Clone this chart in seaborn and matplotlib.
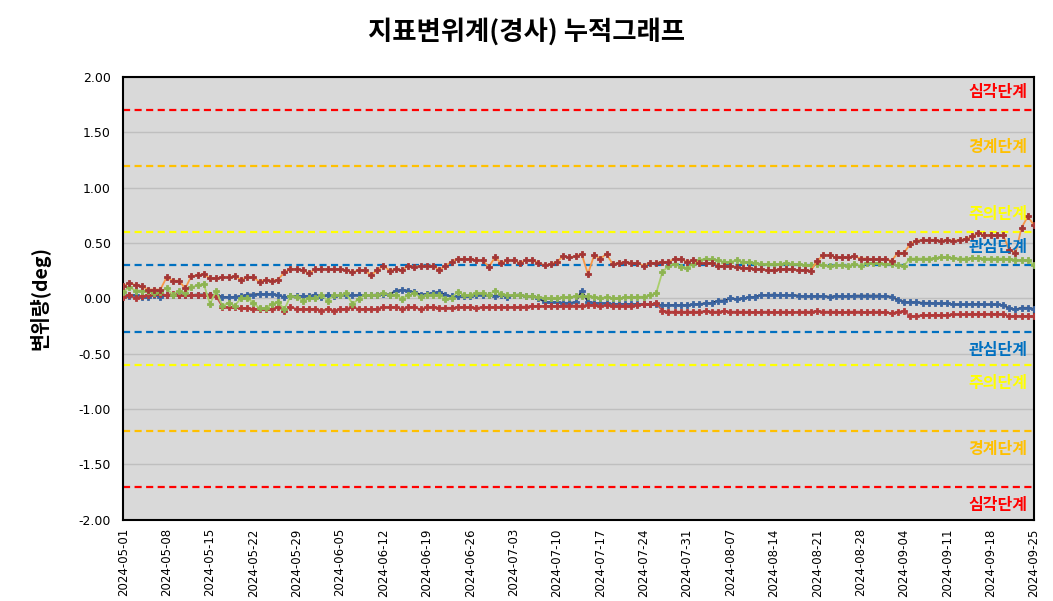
import pandas as pd
import matplotlib
matplotlib.use("Agg")
import matplotlib.pyplot as plt
import matplotlib.ticker as mticker
import seaborn as sns

# daily readings 2024-05-01 .. 2024-09-25
dates = pd.date_range("2024-05-01", "2024-09-25", freq="D")

upper_red = [
    0.11, 0.14, 0.12, 0.11, 0.08, 0.08, 0.08, 0.19, 0.16, 0.16, 0.09, 0.20, 0.21, 0.22, 0.18, 0.18,
    0.19, 0.19, 0.20, 0.17, 0.19, 0.19, 0.15, 0.17, 0.16, 0.17,
    0.235, 0.265, 0.265, 0.255, 0.225, 0.265, 0.265, 0.265, 0.265, 0.265, 0.255, 0.235, 0.255, 0.255,
    0.21, 0.255, 0.295, 0.25, 0.265, 0.255, 0.295, 0.285, 0.295, 0.295,
    0.295, 0.255, 0.295, 0.33, 0.36, 0.355, 0.355, 0.345, 0.345, 0.285, 0.37, 0.32, 0.345, 0.345,
    0.32, 0.345, 0.345, 0.32, 0.30, 0.31, 0.33, 0.38, 0.37, 0.38, 0.40,
    0.22, 0.39, 0.36, 0.40, 0.31, 0.32, 0.33, 0.32, 0.32, 0.295, 0.32, 0.32, 0.33, 0.33, 0.36, 0.355,
    0.33, 0.345, 0.32, 0.32, 0.32, 0.295, 0.295, 0.295, 0.285,
    0.275, 0.275, 0.265, 0.265, 0.255, 0.255, 0.265, 0.265, 0.265, 0.255, 0.255, 0.25, 0.34, 0.39,
    0.39, 0.37, 0.37, 0.37, 0.38, 0.36, 0.36, 0.355, 0.355, 0.355,
    0.34, 0.41, 0.41, 0.49, 0.52, 0.53, 0.53, 0.53, 0.52, 0.53, 0.52, 0.53, 0.535, 0.56, 0.59, 0.57,
    0.57, 0.57, 0.57, 0.44, 0.41, 0.64, 0.74, 0.66,
]

lower_red = [
    0.015, 0.03, 0.0, 0.02, 0.03, 0.04, 0.04, 0.03, 0.04, 0.03, 0.03, 0.03, 0.03, 0.03, 0.03, 0.02,
    -0.075, -0.08, -0.08, -0.09, -0.09, -0.095, -0.095, -0.095, -0.095, -0.08,
    -0.11, -0.08, -0.095, -0.095, -0.095, -0.095, -0.11, -0.095, -0.11, -0.095, -0.095, -0.08,
    -0.095, -0.095, -0.095, -0.095, -0.08, -0.08, -0.08, -0.095, -0.08, -0.08, -0.10, -0.08,
    -0.08, -0.085, -0.085, -0.085, -0.08, -0.08, -0.08, -0.085, -0.08, -0.08, -0.08, -0.08, -0.08,
    -0.08, -0.075, -0.075, -0.07, -0.07, -0.07, -0.07, -0.07, -0.065, -0.065, -0.065, -0.065,
    -0.06, -0.06, -0.07, -0.06, -0.065, -0.065, -0.065, -0.065, -0.06, -0.055, -0.055, -0.045,
    -0.11, -0.12, -0.12, -0.12, -0.12, -0.12, -0.12, -0.115, -0.12, -0.12, -0.115, -0.12, -0.12,
    -0.12, -0.12, -0.125, -0.12, -0.12, -0.125, -0.12, -0.12, -0.125, -0.12, -0.12, -0.12, -0.115,
    -0.12, -0.12, -0.12, -0.125, -0.12, -0.12, -0.12, -0.125, -0.12, -0.12, -0.125,
    -0.135, -0.12, -0.115, -0.16, -0.16, -0.15, -0.15, -0.15, -0.15, -0.15, -0.145, -0.145, -0.145,
    -0.14, -0.14, -0.14, -0.14, -0.14, -0.145, -0.16, -0.16, -0.16, -0.16, -0.16,
]

blue = [
    0.025, 0.025, 0.03, 0.01, 0.01, 0.035, 0.01, 0.03, 0.035, 0.035, 0.035, 0.03, 0.035, 0.035,
    0.035, 0.03, 0.015, 0.01, 0.015, 0.02, 0.035, 0.035, 0.04, 0.04, 0.04, 0.03,
    0.01, 0.02, 0.02, 0.02, 0.02, 0.035, 0.01, 0.03, 0.02, 0.03, 0.03, 0.03, 0.03, 0.03, 0.03,
    0.035, 0.04, 0.035, 0.07, 0.075, 0.07, 0.055, 0.035, 0.04,
    0.05, 0.06, 0.03, 0.02, 0.02, 0.02, 0.02, 0.03, 0.035, 0.03, 0.02, 0.03, 0.015, 0.03, 0.035,
    0.02, 0.02, 0.0, -0.03, -0.035, -0.035, -0.04, -0.04, -0.035, 0.07,
    -0.03, -0.04, -0.045, -0.045, -0.05, -0.05, -0.05, -0.05, -0.05, -0.05, -0.05, -0.055, -0.06,
    -0.06, -0.06, -0.06, -0.06, -0.055, -0.05, -0.045, -0.04, -0.02, -0.02, 0.0, -0.005,
    0.0, 0.01, 0.015, 0.03, 0.03, 0.035, 0.03, 0.03, 0.03, 0.025, 0.02, 0.02, 0.02, 0.02, 0.015,
    0.02, 0.02, 0.02, 0.025, 0.025, 0.025, 0.025, 0.025, 0.02,
    0.015, -0.015, -0.03, -0.035, -0.035, -0.04, -0.04, -0.045, -0.045, -0.045, -0.055, -0.055,
    -0.055, -0.05, -0.05, -0.055, -0.055, -0.055, -0.06, -0.09, -0.10, -0.085, -0.085, -0.095,
]

green = [
    0.06, 0.10, 0.07, 0.07, 0.07, 0.045, 0.06, 0.09, 0.035, 0.07, 0.05, 0.10, 0.12, 0.13, -0.05,
    0.07, -0.065, -0.04, -0.065, 0.0, 0.005, -0.04, -0.09, -0.09, -0.05, -0.03,
    -0.10, 0.02, 0.015, -0.02, 0.0, 0.0, 0.03, -0.02, 0.03, 0.03, 0.045, -0.05, -0.005, 0.03, 0.03,
    0.03, 0.045, 0.03, 0.035, -0.005, 0.03, 0.045, 0.01, 0.03,
    0.035, 0.03, -0.005, 0.005, 0.06, 0.03, 0.03, 0.05, 0.05, 0.03, 0.07, 0.04, 0.03, 0.03, 0.035,
    0.02, 0.02, 0.01, 0.005, 0.0, 0.0, 0.01, 0.01, 0.02, 0.02,
    0.02, 0.015, 0.005, 0.01, 0.0, 0.0, 0.01, 0.01, 0.015, 0.015, 0.03, 0.045, 0.235, 0.295, 0.31,
    0.285, 0.275, 0.31, 0.345, 0.36, 0.355, 0.345, 0.33, 0.33, 0.345,
    0.33, 0.33, 0.32, 0.31, 0.31, 0.31, 0.31, 0.32, 0.31, 0.31, 0.30, 0.30, 0.31, 0.30, 0.295, 0.30,
    0.30, 0.295, 0.31, 0.295, 0.32, 0.32, 0.32, 0.31,
    0.31, 0.30, 0.295, 0.36, 0.36, 0.36, 0.36, 0.365, 0.37, 0.37, 0.365, 0.36, 0.36, 0.365, 0.365,
    0.36, 0.36, 0.36, 0.36, 0.355, 0.35, 0.345, 0.345, 0.30,
]

# alert levels (drawn at +/-)
levels = [0.3, 0.6, 1.2, 1.7]
level_names = ["관심단계", "주의단계", "경계단계", "심각단계"]
level_colors = ["#0070C0", "#FFFF00", "#FFC000", "#FF0000"]

sns.set_theme(style="whitegrid")
plt.rcParams['font.family'] = ['DejaVu Sans', 'Noto Sans CJK KR']
plt.rcParams['axes.unicode_minus'] = False
plt.rcParams['text.color'] = 'black'
plt.rcParams['axes.labelcolor'] = 'black'
plt.rcParams['xtick.color'] = 'black'
plt.rcParams['ytick.color'] = 'black'
kr = ['Noto Sans CJK KR', 'DejaVu Sans']

fig = plt.figure(figsize=(10.53, 6.01), dpi=100)
ax = fig.add_axes([0.117, 0.135, 0.865, 0.737])
ax.set_facecolor('#D9D9D9')

# threshold dashed lines
for lv, col in zip(levels, level_colors):
    for sign in (1, -1):
        ax.axhline(sign * lv, color=col, lw=1.6, dashes=(3.2, 2.0), zorder=2)

# series: (values, line colour, marker colour)
series = [
    (blue, '#1F2D4A', '#3B64A0'),
    (lower_red, '#C0504D', '#B23A3A'),
    (green, '#A9CF6B', '#8DB451'),
    (upper_red, '#F79646', '#A33535'),
]
for vals, lc, mc in series:
    sns.lineplot(x=dates, y=vals, ax=ax, color=lc, lw=1.3, marker='P', markersize=5,
                 markerfacecolor=mc, markeredgecolor=mc, markeredgewidth=0.6, zorder=3)

# level labels
for lv, name, col in zip(levels, level_names, level_colors):
    for sign in (1, -1):
        ax.annotate(name, xy=(0.993, sign * lv), xycoords=ax.get_yaxis_transform(),
                    xytext=(0, 13 * sign), textcoords='offset points',
                    ha='right', va='center', color=col, fontsize=11.5, fontweight='bold',
                    family=kr, zorder=4)

ax.set_xlim(dates[0], dates[-1])
ax.set_ylim(-2, 2)
ax.yaxis.set_major_locator(mticker.MultipleLocator(0.5))
ax.yaxis.set_major_formatter(mticker.FormatStrFormatter('%.2f'))
ax.set_xticks(dates[::7])
ax.set_xticklabels([d.strftime('%Y-%m-%d') for d in dates[::7]], rotation=90, fontsize=8.5)
ax.tick_params(axis='y', labelsize=9, length=0, pad=9)
ax.tick_params(axis='x', length=0, pad=6)

ax.grid(axis='y', color='#BFBFBF', lw=1)
ax.grid(axis='x', visible=False)
for sp in ax.spines.values():
    sp.set_color('black')
    sp.set_linewidth(1.5)

ax.set_xlabel('')
ax.set_ylabel('변위량(deg)', fontsize=14, fontweight='bold', family=kr, labelpad=20)
fig.suptitle('지표변위계(경사) 누적그래프', fontsize=19, fontweight='bold',
             family=kr, x=0.5, y=0.97)

fig.savefig('out.png', dpi=100)
